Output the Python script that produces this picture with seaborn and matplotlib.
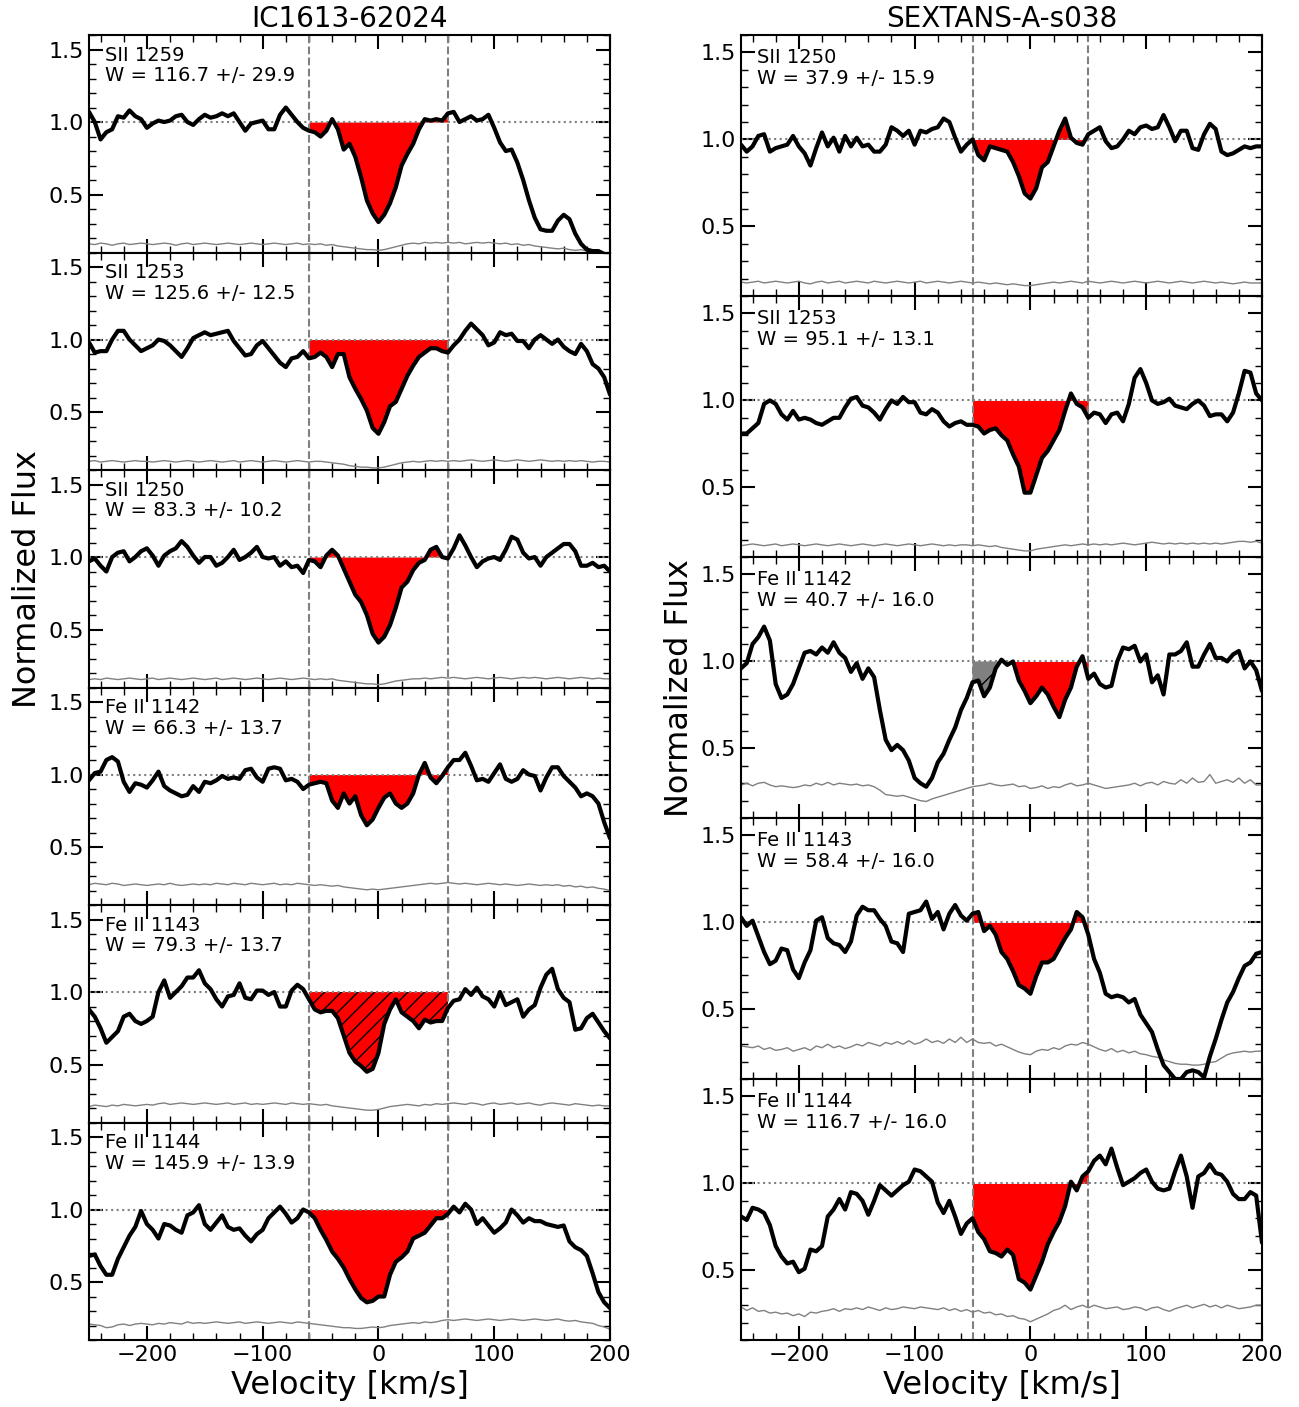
import numpy as np
import matplotlib
matplotlib.use('Agg')
import matplotlib.pyplot as plt
import seaborn as sns
from matplotlib.ticker import MultipleLocator

# velocity grid of the spectra, km/s
velocity = np.arange(-250, 205, 5)

# ---------------- IC1613-62024 ----------------
flux_ic_s1259 = [1.07, 1.00, 0.88, 0.93, 0.95, 1.04, 1.03, 1.08, 1.04, 1.02,
                 0.96, 0.99, 1.01, 1.00, 1.01, 1.04, 1.05, 1.00, 0.98, 1.02,
                 1.05, 1.03, 1.04, 1.06, 1.04, 1.06, 1.00, 0.94, 0.99, 1.00,
                 1.01, 0.95, 0.95, 1.05, 1.10, 1.05, 1.00, 0.96, 0.94, 0.93,
                 0.90, 0.94, 1.02, 0.95, 0.81, 0.85, 0.76, 0.62, 0.46, 0.37,
                 0.31, 0.36, 0.44, 0.55, 0.70, 0.78, 0.85, 0.95, 1.02, 1.01,
                 1.02, 1.01, 1.06, 1.07, 1.00, 1.02, 1.04, 1.01, 1.02, 1.05,
                 0.96, 0.86, 0.80, 0.81, 0.72, 0.60, 0.46, 0.34, 0.26, 0.25,
                 0.25, 0.32, 0.36, 0.33, 0.23, 0.16, 0.12, 0.11, 0.11, 0.09,
                 0.08]
err_ic_s1259 = [.16, .155, .165, .16, .15, .16, .165, .155, .16, .165,
                .16, .155, .16, .165, .16, .15, .16, .165, .155, .16,
                .165, .16, .155, .16, .165, .16, .155, .16, .165, .16,
                .155, .16, .165, .16, .155, .16, .165, .155, .16, .155,
                .16, .15, .155, .145, .14, .135, .13, .125, .12, .12,
                .115, .12, .13, .14, .15, .16, .165, .16, .17, .165,
                .17, .165, .17, .165, .17, .16, .165, .17, .165, .17,
                .165, .16, .165, .155, .16, .15, .155, .145, .14, .135,
                .13, .125, .13, .12, .115, .12, .11, .105, .10, .10,
                .10]

flux_ic_s1253 = [0.98, 0.91, 0.92, 0.92, 1.00, 1.06, 1.06, 1.00, 0.96, 0.92,
                 0.94, 0.96, 1.00, 0.99, 0.96, 0.92, 0.88, 0.94, 1.01, 1.03,
                 1.05, 1.03, 1.04, 1.05, 1.06, 0.99, 0.94, 0.89, 0.90, 0.96,
                 0.99, 0.94, 0.89, 0.84, 0.81, 0.87, 0.88, 0.92, 0.87, 0.88,
                 0.91, 0.88, 0.81, 0.90, 0.90, 0.74, 0.66, 0.59, 0.51, 0.39,
                 0.35, 0.43, 0.54, 0.57, 0.66, 0.75, 0.82, 0.88, 0.91, 0.94,
                 0.94, 0.92, 0.91, 0.96, 1.00, 1.06, 1.11, 1.07, 1.03, 0.96,
                 0.98, 1.05, 1.03, 1.04, 0.99, 0.99, 0.94, 1.00, 1.03, 1.00,
                 0.97, 1.00, 0.95, 0.92, 0.90, 0.97, 0.92, 0.83, 0.80, 0.74,
                 0.62]
err_ic_s1253 = [.16, .165, .155, .16, .165, .16, .155, .16, .165, .16,
                .16, .155, .16, .165, .16, .155, .16, .165, .16, .155,
                .16, .165, .16, .155, .16, .165, .155, .16, .165, .16,
                .155, .16, .165, .16, .155, .16, .165, .16, .155, .16,
                .16, .155, .15, .145, .14, .13, .125, .12, .12, .115,
                .115, .12, .13, .14, .15, .155, .16, .155, .16, .165,
                .16, .165, .16, .165, .16, .165, .17, .165, .16, .165,
                .17, .165, .16, .165, .17, .165, .16, .165, .17, .165,
                .16, .165, .16, .165, .16, .165, .16, .155, .16, .16,
                .155]

flux_ic_s1250 = [0.97, 0.99, 0.94, 0.90, 1.00, 1.03, 1.04, 0.97, 1.00, 1.04,
                 1.06, 1.01, 0.94, 1.01, 1.04, 1.06, 1.11, 1.07, 1.01, 0.96,
                 1.00, 1.00, 0.94, 0.96, 1.00, 1.05, 0.98, 1.00, 1.03, 1.07,
                 1.00, 0.99, 1.00, 0.94, 0.97, 0.93, 0.94, 0.89, 0.98, 0.97,
                 0.93, 1.01, 1.05, 1.01, 0.92, 0.83, 0.74, 0.69, 0.60, 0.47,
                 0.41, 0.45, 0.53, 0.65, 0.79, 0.83, 0.91, 0.96, 0.98, 1.05,
                 1.07, 1.00, 0.99, 1.06, 1.15, 1.08, 1.00, 0.93, 0.97, 0.99,
                 1.00, 0.98, 1.05, 1.14, 1.12, 1.03, 0.99, 1.00, 0.94, 1.00,
                 1.03, 1.06, 1.09, 1.09, 1.04, 0.94, 0.94, 0.96, 0.93, 0.94,
                 0.90]
err_ic_s1250 = [.155, .16, .155, .165, .16, .155, .16, .165, .16, .155,
                .16, .165, .155, .16, .165, .16, .155, .16, .165, .16,
                .155, .16, .165, .155, .16, .165, .16, .155, .16, .165,
                .16, .155, .16, .165, .16, .155, .16, .165, .16, .155,
                .16, .155, .16, .15, .145, .14, .135, .13, .125, .125,
                .12, .125, .135, .145, .15, .155, .16, .16, .165, .16,
                .165, .17, .165, .17, .165, .16, .165, .17, .165, .16,
                .165, .17, .165, .16, .165, .17, .165, .17, .165, .16,
                .165, .17, .165, .16, .165, .17, .165, .16, .165, .16,
                .16]

flux_ic_fe1142 = [0.96, 1.01, 1.02, 1.10, 1.12, 1.09, 0.95, 0.88, 0.94, 0.93,
                  0.91, 0.96, 1.02, 0.92, 0.89, 0.87, 0.85, 0.86, 0.92, 0.88,
                  0.95, 0.94, 0.96, 0.99, 0.97, 0.98, 0.97, 1.03, 1.04, 0.98,
                  0.95, 1.04, 1.05, 1.04, 0.96, 0.97, 0.95, 0.90, 0.93, 0.94,
                  0.95, 0.94, 0.82, 0.77, 0.87, 0.80, 0.85, 0.72, 0.65, 0.69,
                  0.77, 0.84, 0.87, 0.80, 0.77, 0.80, 0.87, 1.00, 1.08, 0.98,
                  0.94, 0.99, 1.05, 1.10, 1.10, 1.15, 1.06, 0.96, 0.97, 0.95,
                  1.01, 1.07, 0.97, 0.95, 0.97, 1.03, 1.00, 0.99, 0.89, 0.98,
                  1.05, 1.05, 0.99, 0.95, 0.91, 0.85, 0.87, 0.85, 0.80, 0.67,
                  0.56]
err_ic_fe1142 = [.24, .25, .245, .24, .25, .245, .235, .24, .245, .24,
                 .235, .24, .245, .24, .25, .24, .235, .24, .245, .24,
                 .245, .24, .25, .245, .24, .25, .245, .24, .25, .245,
                 .24, .245, .25, .24, .245, .24, .25, .245, .24, .235,
                 .24, .235, .23, .235, .225, .22, .215, .21, .205, .21,
                 .205, .21, .215, .22, .225, .23, .235, .24, .245, .25,
                 .245, .25, .255, .25, .245, .25, .245, .24, .245, .25,
                 .245, .24, .245, .24, .235, .24, .245, .24, .235, .24,
                 .235, .24, .23, .235, .225, .23, .22, .225, .215, .21,
                 .20]

flux_ic_fe1143 = [0.88, 0.83, 0.75, 0.65, 0.69, 0.73, 0.83, 0.85, 0.80, 0.78,
                  0.80, 0.83, 1.00, 1.08, 0.96, 1.00, 1.04, 1.10, 1.10, 1.15,
                  1.06, 1.02, 0.95, 0.90, 0.97, 0.98, 1.06, 0.96, 0.95, 1.01,
                  1.01, 0.98, 1.00, 0.90, 0.90, 1.01, 1.05, 1.02, 0.95, 0.88,
                  0.86, 0.87, 0.87, 0.82, 0.70, 0.58, 0.52, 0.49, 0.45, 0.47,
                  0.58, 0.78, 0.88, 0.95, 0.86, 0.83, 0.80, 0.75, 0.81, 0.79,
                  0.80, 0.80, 0.89, 0.94, 0.95, 1.02, 0.98, 1.03, 0.97, 0.95,
                  0.90, 1.00, 0.91, 0.93, 0.95, 0.83, 0.88, 0.91, 1.03, 1.12,
                  1.16, 1.02, 0.96, 0.93, 0.74, 0.75, 0.82, 0.85, 0.79, 0.73,
                  0.68]
err_ic_fe1143 = [.21, .22, .215, .21, .22, .215, .225, .22, .215, .22,
                 .225, .22, .23, .235, .225, .23, .235, .23, .225, .23,
                 .235, .23, .225, .23, .235, .225, .23, .235, .225, .23,
                 .225, .23, .235, .23, .225, .235, .23, .225, .23, .225,
                 .22, .225, .215, .21, .205, .20, .195, .19, .185, .185,
                 .19, .20, .21, .215, .22, .225, .22, .215, .225, .22,
                 .23, .225, .23, .235, .23, .225, .235, .23, .22, .23,
                 .235, .225, .23, .235, .225, .23, .235, .225, .22, .23,
                 .235, .23, .225, .22, .23, .225, .22, .215, .22, .215,
                 .215]

flux_ic_fe1144 = [0.68, 0.69, 0.61, 0.55, 0.55, 0.66, 0.74, 0.82, 0.88, 0.99,
                  0.90, 0.86, 0.80, 0.90, 0.89, 0.86, 0.84, 0.96, 0.98, 1.03,
                  0.90, 0.86, 0.91, 0.96, 0.88, 0.86, 0.87, 0.82, 0.78, 0.83,
                  0.86, 0.94, 0.98, 1.02, 0.97, 0.91, 0.94, 1.00, 0.98, 0.94,
                  0.86, 0.79, 0.71, 0.66, 0.60, 0.52, 0.45, 0.39, 0.36, 0.37,
                  0.40, 0.40, 0.55, 0.64, 0.67, 0.71, 0.80, 0.82, 0.84, 0.89,
                  0.94, 0.94, 0.97, 1.02, 0.98, 1.04, 1.00, 0.90, 0.94, 0.89,
                  0.84, 0.87, 0.91, 1.00, 0.96, 0.91, 0.94, 0.92, 0.92, 0.90,
                  0.89, 0.88, 0.89, 0.78, 0.74, 0.72, 0.68, 0.56, 0.43, 0.36,
                  0.32]
err_ic_fe1144 = [.21, .205, .20, .185, .19, .205, .21, .20, .21, .215,
                 .21, .205, .215, .21, .22, .215, .21, .225, .215, .22,
                 .215, .22, .225, .22, .215, .22, .225, .215, .22, .225,
                 .22, .215, .22, .225, .22, .215, .225, .22, .215, .21,
                 .205, .20, .195, .19, .185, .185, .18, .18, .185, .19,
                 .185, .19, .20, .205, .21, .215, .22, .215, .225, .22,
                 .225, .235, .24, .235, .24, .245, .24, .235, .24, .245,
                 .24, .235, .24, .245, .24, .235, .24, .245, .24, .235,
                 .24, .245, .235, .23, .235, .225, .22, .215, .20, .19,
                 .175]

# ---------------- SEXTANS-A-s038 ----------------
flux_sx_s1250 = [0.97, 0.93, 0.96, 1.02, 1.03, 0.93, 0.95, 0.96, 0.97, 1.02,
                 0.96, 0.92, 0.85, 0.95, 1.04, 0.96, 1.01, 0.93, 1.02, 0.96,
                 1.01, 0.96, 0.97, 0.93, 0.93, 0.97, 1.07, 1.05, 1.02, 1.05,
                 0.97, 1.05, 1.04, 1.06, 1.07, 1.12, 1.10, 1.01, 0.93, 0.97,
                 1.00, 0.91, 0.88, 0.96, 0.95, 0.94, 0.93, 0.87, 0.79, 0.69,
                 0.66, 0.72, 0.84, 0.87, 0.96, 1.05, 1.12, 1.01, 0.98, 0.97,
                 1.03, 1.05, 1.07, 0.99, 0.95, 0.96, 1.00, 1.05, 1.03, 1.07,
                 1.08, 1.06, 1.07, 1.14, 1.07, 0.99, 1.05, 1.05, 0.95, 0.94,
                 1.03, 1.09, 1.06, 0.93, 0.91, 0.92, 0.94, 0.96, 0.95, 0.96,
                 0.96]
err_sx_s1250 = [.18, .175, .18, .185, .175, .18, .185, .18, .175, .18,
                .185, .175, .17, .18, .185, .175, .18, .185, .175, .18,
                .185, .18, .175, .185, .18, .175, .18, .185, .18, .175,
                .18, .185, .175, .18, .185, .18, .175, .18, .185, .18,
                .175, .18, .175, .17, .175, .17, .165, .17, .165, .16,
                .16, .165, .17, .175, .18, .175, .18, .185, .18, .175,
                .185, .18, .175, .18, .185, .18, .175, .18, .185, .18,
                .175, .18, .185, .18, .175, .18, .185, .18, .175, .18,
                .185, .18, .175, .18, .175, .17, .175, .18, .175, .175,
                .175]

flux_sx_s1253 = [0.81, 0.81, 0.84, 0.87, 0.98, 1.00, 0.98, 0.92, 0.89, 0.94,
                 0.89, 0.90, 0.89, 0.87, 0.86, 0.88, 0.90, 0.90, 0.96, 1.01,
                 1.02, 0.97, 0.96, 0.93, 0.89, 0.95, 1.00, 0.98, 1.02, 0.99,
                 0.99, 0.93, 0.92, 0.95, 0.93, 0.88, 0.85, 0.87, 0.88, 0.86,
                 0.86, 0.85, 0.81, 0.83, 0.84, 0.80, 0.77, 0.69, 0.62, 0.47,
                 0.47, 0.57, 0.67, 0.71, 0.77, 0.83, 0.94, 1.04, 0.98, 0.96,
                 0.90, 0.93, 0.92, 0.87, 0.92, 0.93, 0.88, 0.98, 1.13, 1.18,
                 1.10, 1.00, 0.98, 0.99, 1.01, 0.97, 0.96, 0.95, 0.98, 1.00,
                 0.97, 0.91, 0.92, 0.92, 0.88, 0.93, 1.04, 1.17, 1.16, 1.04,
                 1.00]
err_sx_s1253 = [.165, .17, .175, .17, .165, .17, .175, .165, .17, .175,
                .17, .165, .17, .175, .17, .165, .17, .175, .17, .165,
                .17, .175, .17, .165, .17, .175, .17, .165, .17, .175,
                .17, .165, .17, .175, .17, .165, .17, .165, .17, .17,
                .165, .17, .165, .16, .165, .155, .15, .145, .14, .135,
                .135, .145, .15, .155, .16, .165, .17, .165, .17, .175,
                .17, .175, .17, .175, .17, .175, .18, .175, .17, .175,
                .18, .185, .18, .175, .18, .175, .18, .175, .18, .175,
                .18, .175, .18, .175, .18, .185, .19, .19, .185, .19,
                .18]

flux_sx_fe1142 = [0.96, 0.99, 1.10, 1.14, 1.20, 1.12, 0.87, 0.79, 0.81, 0.87,
                  0.96, 1.05, 1.06, 1.04, 1.08, 1.05, 1.11, 1.05, 1.02, 0.94,
                  0.99, 0.90, 0.96, 0.91, 0.72, 0.55, 0.49, 0.52, 0.49, 0.43,
                  0.33, 0.30, 0.28, 0.33, 0.42, 0.47, 0.55, 0.62, 0.72, 0.79,
                  0.88, 0.89, 0.80, 0.85, 0.96, 1.01, 0.98, 1.00, 0.89, 0.83,
                  0.76, 0.80, 0.85, 0.81, 0.74, 0.68, 0.78, 0.85, 0.97, 1.03,
                  0.90, 0.93, 0.87, 0.85, 0.86, 1.00, 1.08, 1.07, 1.09, 1.00,
                  1.04, 0.88, 0.92, 0.81, 1.04, 1.04, 1.06, 1.11, 0.97, 0.97,
                  1.04, 1.10, 1.02, 1.02, 1.00, 1.04, 1.06, 0.96, 1.00, 0.95,
                  0.83]
err_sx_fe1142 = [.29, .30, .285, .30, .305, .29, .28, .285, .28, .275,
                 .28, .29, .285, .30, .29, .305, .29, .30, .295, .29,
                 .295, .285, .29, .28, .26, .235, .23, .225, .23, .22,
                 .21, .20, .195, .21, .22, .23, .24, .25, .26, .27,
                 .28, .285, .29, .30, .29, .285, .29, .295, .28, .285,
                 .27, .275, .285, .27, .28, .275, .29, .30, .285, .29,
                 .30, .29, .28, .27, .275, .28, .285, .29, .30, .285,
                 .30, .305, .29, .31, .30, .295, .32, .30, .33, .305,
                 .31, .35, .30, .31, .32, .305, .33, .30, .32, .29,
                 .29]

flux_sx_fe1143 = [1.03, 0.98, 1.01, 0.92, 0.83, 0.76, 0.78, 0.85, 0.84, 0.73,
                  0.68, 0.77, 0.84, 1.01, 1.03, 0.91, 0.88, 0.87, 0.83, 0.89,
                  1.04, 1.09, 1.07, 1.07, 1.02, 0.98, 0.89, 0.88, 0.83, 1.05,
                  1.06, 1.07, 1.12, 1.02, 1.06, 0.96, 1.05, 1.10, 1.04, 1.01,
                  1.05, 1.06, 0.95, 0.98, 0.93, 0.83, 0.79, 0.72, 0.64, 0.62,
                  0.59, 0.69, 0.77, 0.77, 0.79, 0.85, 0.91, 0.96, 1.06, 1.03,
                  0.93, 0.79, 0.71, 0.59, 0.57, 0.58, 0.57, 0.54, 0.56, 0.47,
                  0.42, 0.37, 0.27, 0.18, 0.14, 0.10, 0.10, 0.14, 0.15, 0.14,
                  0.11, 0.23, 0.33, 0.44, 0.54, 0.60, 0.68, 0.75, 0.77, 0.82,
                  0.83]
err_sx_fe1143 = [.29, .285, .28, .29, .27, .28, .265, .27, .28, .26,
                 .27, .28, .265, .29, .28, .30, .28, .29, .275, .285,
                 .30, .29, .31, .30, .29, .31, .30, .315, .30, .32,
                 .30, .31, .33, .31, .32, .305, .33, .31, .34, .31,
                 .33, .31, .305, .31, .29, .30, .285, .27, .255, .245,
                 .24, .26, .27, .265, .28, .27, .29, .30, .295, .31,
                 .30, .285, .27, .26, .275, .255, .265, .25, .26, .245,
                 .24, .23, .225, .21, .20, .19, .185, .185, .18, .18,
                 .185, .195, .20, .22, .24, .25, .255, .26, .255, .26,
                 .26]

flux_sx_fe1144 = [0.81, 0.79, 0.86, 0.85, 0.83, 0.76, 0.64, 0.58, 0.54, 0.55,
                  0.49, 0.51, 0.62, 0.61, 0.64, 0.81, 0.85, 0.91, 0.85, 0.95,
                  0.94, 0.90, 0.82, 0.90, 0.99, 0.96, 0.93, 0.96, 0.99, 1.01,
                  1.08, 1.07, 1.04, 1.01, 0.89, 0.83, 0.90, 0.81, 0.71, 0.77,
                  0.80, 0.72, 0.68, 0.61, 0.60, 0.58, 0.62, 0.59, 0.45, 0.43,
                  0.39, 0.47, 0.55, 0.65, 0.72, 0.78, 0.87, 1.01, 0.96, 1.04,
                  1.07, 1.13, 1.16, 1.11, 1.20, 1.09, 0.99, 1.01, 1.03, 1.06,
                  1.08, 1.01, 0.97, 0.96, 0.97, 1.07, 1.16, 1.04, 0.86, 1.04,
                  1.06, 1.11, 1.06, 1.05, 1.01, 0.94, 0.91, 0.91, 0.95, 0.93,
                  0.66]
err_sx_fe1144 = [.29, .27, .285, .265, .27, .255, .26, .25, .255, .24,
                 .25, .235, .26, .255, .265, .27, .28, .265, .28, .275,
                 .285, .275, .29, .28, .27, .285, .275, .28, .29, .285,
                 .28, .29, .285, .28, .275, .285, .27, .28, .265, .275,
                 .26, .27, .255, .26, .245, .25, .235, .24, .225, .22,
                 .205, .22, .235, .25, .27, .28, .30, .275, .29, .30,
                 .285, .30, .29, .28, .285, .29, .275, .28, .29, .285,
                 .27, .285, .29, .275, .265, .28, .29, .30, .285, .295,
                 .305, .29, .30, .285, .30, .29, .28, .285, .29, .30,
                 .30]

ic_names = ['SII 1259', 'SII 1253', 'SII 1250', 'Fe II 1142', 'Fe II 1143', 'Fe II 1144']
ic_widths = ['116.7 +/- 29.9', '125.6 +/- 12.5', '83.3 +/- 10.2',
             '66.3 +/- 13.7', '79.3 +/- 13.7', '145.9 +/- 13.9']
ic_flux = [flux_ic_s1259, flux_ic_s1253, flux_ic_s1250, flux_ic_fe1142, flux_ic_fe1143, flux_ic_fe1144]
ic_err = [err_ic_s1259, err_ic_s1253, err_ic_s1250, err_ic_fe1142, err_ic_fe1143, err_ic_fe1144]
ic_window = (-60, 60)

sx_names = ['SII 1250', 'SII 1253', 'Fe II 1142', 'Fe II 1143', 'Fe II 1144']
sx_widths = ['37.9 +/- 15.9', '95.1 +/- 13.1', '40.7 +/- 16.0',
             '58.4 +/- 16.0', '116.7 +/- 16.0']
sx_flux = [flux_sx_s1250, flux_sx_s1253, flux_sx_fe1142, flux_sx_fe1143, flux_sx_fe1144]
sx_err = [err_sx_s1250, err_sx_s1253, err_sx_fe1142, err_sx_fe1143, err_sx_fe1144]
sx_window = (-50, 50)

sns.set_theme(style='ticks')
plt.rcParams['font.family'] = ['DejaVu Sans']
plt.rcParams['hatch.linewidth'] = 1.0
# plain black text and ticks, as in matplotlib's classic look
for key in ['text.color', 'axes.labelcolor', 'xtick.color', 'ytick.color', 'axes.edgecolor']:
    plt.rcParams[key] = 'black'


def draw_panel(ax, flux, err, name, width, window, hatch=None, blend=None):
    flux = np.asarray(flux)
    lo, hi = window
    if blend is not None:
        m = (velocity >= lo) & (velocity <= blend)
        ax.fill_between(velocity[m], flux[m], 1.0, facecolor='gray', edgecolor='black',
                        hatch='/', linewidth=0, zorder=1)
        lo = blend
    m = (velocity >= lo) & (velocity <= hi)
    ax.fill_between(velocity[m], flux[m], 1.0, facecolor='red',
                    edgecolor='black' if hatch else 'red', hatch=hatch,
                    linewidth=0, zorder=1)
    sns.lineplot(x=velocity, y=err, ax=ax, color='gray', linewidth=1,
                 estimator=None, sort=False, zorder=2)
    sns.lineplot(x=velocity, y=flux, ax=ax, color='black', linewidth=3,
                 estimator=None, sort=False, zorder=3)
    ax.axhline(1.0, color='gray', linestyle=':', linewidth=1.5, zorder=1.5)
    for v in window:
        ax.axvline(v, color='gray', linestyle='--', linewidth=1.5, zorder=1.5)
    ax.text(0.03, 0.95, f'{name}\nW = {width}', transform=ax.transAxes,
            ha='left', va='top', fontsize=14, color='black', linespacing=1.1)
    ax.set_xlim(-250, 200)
    ax.set_ylim(0.1, 1.6)
    ax.set_yticks([0.5, 1.0, 1.5])
    ax.yaxis.set_minor_locator(MultipleLocator(0.1))
    ax.xaxis.set_major_locator(MultipleLocator(100))
    ax.xaxis.set_minor_locator(MultipleLocator(20))
    ax.tick_params(which='both', direction='in', top=True, right=True, labelsize=16,
                   color='black', labelcolor='black')
    ax.tick_params(which='major', length=10, width=1.5)
    ax.tick_params(which='minor', length=5, width=1)
    for sp in ax.spines.values():
        sp.set_linewidth(1.5)
        sp.set_color('black')
    ax.set_xlabel('')
    ax.set_ylabel('')


fig = plt.figure(figsize=(12.99, 14.07), dpi=100)
gs_left = fig.add_gridspec(6, 1, left=0.0685, right=0.4696, top=0.9751, bottom=0.0476, hspace=0)
gs_right = fig.add_gridspec(5, 1, left=0.5704, right=0.9715, top=0.9751, bottom=0.0476, hspace=0)

for i in range(6):
    ax = fig.add_subplot(gs_left[i])
    draw_panel(ax, ic_flux[i], ic_err[i], ic_names[i], ic_widths[i], ic_window,
               hatch='//' if ic_names[i] == 'Fe II 1143' else None)
    if i == 0:
        ax.set_title('IC1613-62024', fontsize=20, color='black')
    if i == 2:
        ax.set_ylabel('Normalized Flux', fontsize=23, color='black')
    if i < 5:
        ax.tick_params(labelbottom=False)
    else:
        ax.set_xlabel('Velocity [km/s]', fontsize=23, color='black')

for i in range(5):
    ax = fig.add_subplot(gs_right[i])
    draw_panel(ax, sx_flux[i], sx_err[i], sx_names[i], sx_widths[i], sx_window,
               blend=-25 if sx_names[i] == 'Fe II 1142' else None)
    if i == 0:
        ax.set_title('SEXTANS-A-s038', fontsize=20, color='black')
    if i == 2:
        ax.set_ylabel('Normalized Flux', fontsize=23, color='black')
    if i < 4:
        ax.tick_params(labelbottom=False)
    else:
        ax.set_xlabel('Velocity [km/s]', fontsize=23, color='black')

fig.savefig('out.png', dpi=100)
